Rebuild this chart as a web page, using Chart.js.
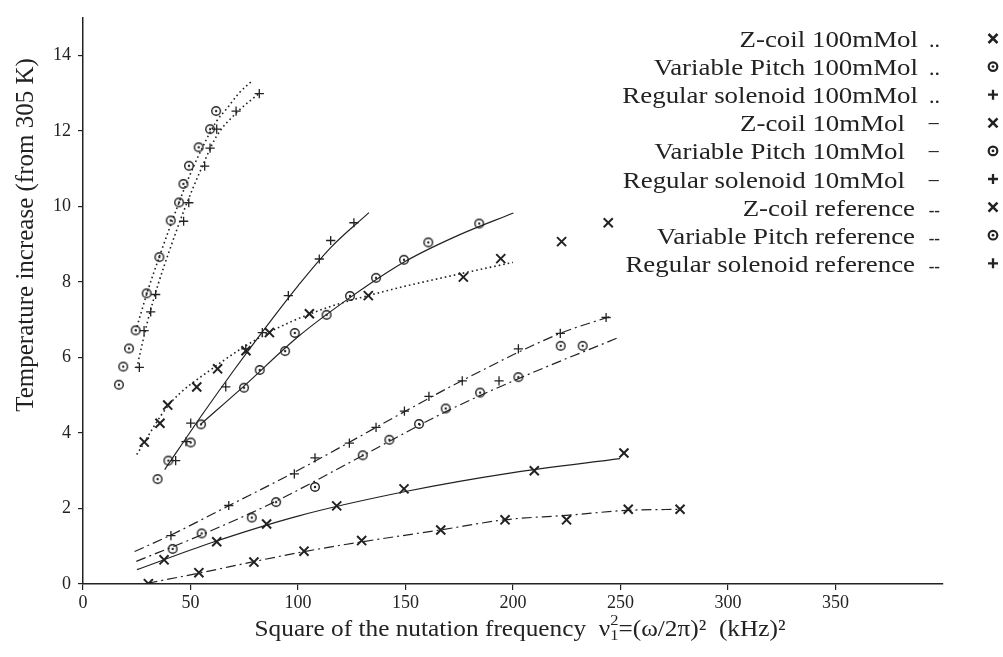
<!DOCTYPE html>
<html>
<head>
<meta charset="utf-8">
<script src="https://cdn.jsdelivr.net/npm/chart.js@4.4.0/dist/chart.umd.min.js"></script>
<style>
  html, body { margin: 0; padding: 0; background: #fff; }
  #wrap { width: 1003px; height: 657px; }
</style>
</head>
<body>
<div id="wrap"><canvas id="chart" width="1003" height="657"></canvas></div>
<script>
// measured points: [nu1^2 (kHz^2), temperature rise (K)]
const zcoil100 = [[28.5,3.76],[35.8,4.26],[39.4,4.74],[52.9,5.22],[62.6,5.70],[75.8,6.18],[86.7,6.66],
  [105.3,7.16],[132.7,7.64],[176.9,8.13],[194.3,8.62],[222.6,9.07],[244.3,9.57]];
const varpitch100 = [[16.7,5.28],[18.7,5.76],[21.4,6.24],[24.5,6.72],[29.6,7.70],[35.5,8.66],[40.8,9.63],
  [44.7,10.11],[46.7,10.60],[49.3,11.08],[53.8,11.57],[59.1,12.05],[61.9,12.53]];
const solenoid100 = [[26.2,5.74],[28.4,6.71],[31.5,7.21],[33.8,7.67],[46.8,9.61],[49.2,10.10],[56.6,11.07],
  [59.1,11.55],[62.2,12.05],[71.2,12.53],[82.0,12.99]];
const zcoil10 = [[37.7,0.64],[62.2,1.12],[85.4,1.59],[118.0,2.07],[149.3,2.52],[209.9,3.00],[251.6,3.47]];
const varpitch10 = [[34.7,2.78],[39.7,3.27],[50.1,3.75],[54.9,4.23],[74.9,5.20],[82.2,5.67],[94.0,6.17],
  [98.5,6.65],[113.3,7.13],[124.2,7.63],[136.3,8.11],[149.3,8.59],[160.6,9.05],[184.3,9.55]];
const solenoid10 = [[43.1,3.27],[47.9,3.77],[50.1,4.26],[66.4,5.22],[75.7,6.23],[83.4,6.66],[95.5,7.64],
  [109.9,8.61],[115.2,9.10],[126.0,9.57]];
const zcoilRef = [[30.4,0.01],[53.9,0.30],[79.5,0.58],[102.8,0.87],[129.6,1.15],[166.4,1.43],[196.3,1.70],
  [224.9,1.70],[253.6,1.98],[277.7,1.98]];
const varpitchRef = [[41.7,0.93],[55.2,1.34],[78.5,1.76],[89.8,2.17],[107.9,2.57],[130.1,3.41],[142.5,3.82],
  [156.3,4.24],[168.7,4.65],[184.7,5.07],[202.5,5.48],[222.2,6.31],[232.4,6.31]];
const solenoidRef = [[40.9,1.28],[67.8,2.08],[98.3,2.92],[107.9,3.34],[123.9,3.73],[136.3,4.15],[149.5,4.58],
  [160.9,4.97],[176.4,5.38],[193.5,5.38],[202.5,6.23],[222.0,6.64],[243.3,7.06]];

// fitted curves
const zcoil100Fit = [[25,3.43],[40,4.75],[60,5.7],[85,6.62],[110,7.25],[140,7.75],[170,8.15],[200,8.52]];
const varpitch100Fit = [[24.5,6.7],[30,7.75],[36,8.75],[42,9.7],[48,10.6],[55,11.5],[62,12.25],[67,12.6],[72.5,13.0],[78.6,13.33]];
const solenoid100Fit = [[25,5.72],[30,6.95],[35,7.95],[40,8.8],[47,9.9],[55,11.0],[62,11.85],[71.5,12.49],[82,13.0]];
const zcoil10Fit = [[25.1,0.38],[60,1.1],[100,1.8],[150,2.45],[200,2.95],[249.8,3.32]];
const varpitch10Fit = [[54.7,4.23],[75,5.25],[100,6.55],[125,7.62],[150,8.55],[175,9.25],[200.2,9.83]];
const solenoid10Fit = [[38,3.03],[55,4.45],[70,5.65],[85,6.8],[100,7.9],[115,8.9],[133,9.84]];
const zcoilRefFit = [[30,0.02],[55,0.3],[80,0.6],[103,0.86],[130,1.12],[166,1.43],[196,1.7],[225,1.82],[253,1.95],[277.7,1.98]];
const varpitchRefFit = [[24.8,0.6],[55,1.3],[90,2.2],[130,3.4],[170,4.6],[205,5.5],[248.2,6.51]];
const solenoidRefFit = [[24,0.86],[41,1.3],[68,2.08],[98,2.95],[150,4.58],[176,5.38],[222,6.64],[245.9,7.1]];

const legendLabels = ['Z-coil 100mMol', 'Variable Pitch 100mMol', 'Regular solenoid 100mMol',
  'Z-coil 10mMol', 'Variable Pitch 10mMol', 'Regular solenoid 10mMol',
  'Z-coil reference', 'Variable Pitch reference', 'Regular solenoid reference'];
const legendTags = ['..', '..', '..', '\u2212', '\u2212', '\u2212', '--', '--', '--'];
const legendMarks = ['x', 'o', '+', 'x', 'o', '+', 'x', 'o', '+'];

const xTitleHead = 'Square of the nutation frequency  \u03bd';
const xTitleTail = '=(\u03c9/2\u03c0)\u00b2  (kHz)\u00b2';
const yTitle = 'Temperature increase (from 305 K)';

const ink = '#222';
const serif = '"Liberation Serif", "Times New Roman", serif';

// circle-with-dot marker
function dotCircle(r, lw) {
  const c = document.createElement('canvas');
  c.width = 14; c.height = 14;
  const g = c.getContext('2d');
  g.strokeStyle = ink; g.fillStyle = ink; g.lineWidth = lw;
  g.beginPath(); g.arc(7, 7, r, 0, Math.PI * 2); g.stroke();
  g.beginPath(); g.arc(7, 7, 1.2, 0, Math.PI * 2); g.fill();
  return c;
}
const circleMark = dotCircle(4.3, 1.4);

const toXY = arr => arr.map(p => ({x: p[0], y: p[1]}));

function marks(data, kind) {
  const ds = { data: toXY(data), showLine: false, borderColor: ink, backgroundColor: 'transparent' };
  if (kind === 'x') Object.assign(ds, { pointStyle: 'crossRot', pointRadius: 6.4, pointBorderWidth: 2 });
  if (kind === '+') Object.assign(ds, { pointStyle: 'cross', pointRadius: 4.6, pointBorderWidth: 1.3 });
  if (kind === 'o') Object.assign(ds, { pointStyle: circleMark, pointRadius: 5 });
  return ds;
}

const dotted = [1.6, 3];
const dashDot = [10, 4, 2, 4];
function fit(data, dash) {
  return { data: toXY(data), showLine: true, pointRadius: 0, borderColor: ink,
    borderWidth: dash === dotted ? 1.6 : 1.2,
    borderDash: dash, cubicInterpolationMode: 'monotone', fill: false };
}

const titlesAndLegend = {
  id: 'titlesAndLegend',
  afterDraw(chart) {
    const ctx = chart.ctx;
    ctx.save();
    ctx.fillStyle = ink;
    ctx.strokeStyle = ink;

    // x title, with stacked sub/superscript on nu
    ctx.font = '23px ' + serif;
    const small = '15px ' + serif;
    const w1 = ctx.measureText(xTitleHead).width;
    const w3 = ctx.measureText(xTitleTail).width;
    ctx.font = small;
    const w2 = ctx.measureText('1').width;
    const total = w1 + w2 + w3;
    ctx.save();
    ctx.translate(520, 636);
    ctx.scale(1.1, 1);
    ctx.textBaseline = 'alphabetic';
    ctx.textAlign = 'left';
    let x0 = -total / 2;
    ctx.font = '23px ' + serif;
    ctx.fillText(xTitleHead, x0, 0);
    ctx.font = small;
    ctx.fillText('2', x0 + w1, -11);
    ctx.fillText('1', x0 + w1, 4);
    ctx.font = '23px ' + serif;
    ctx.fillText(xTitleTail, x0 + w1 + w2, 0);
    ctx.restore();

    // y title
    ctx.save();
    ctx.translate(26, 235);
    ctx.rotate(-Math.PI / 2);
    ctx.font = '25px ' + serif;
    ctx.textAlign = 'center';
    ctx.textBaseline = 'middle';
    ctx.fillText(yTitle, 0, 0);
    ctx.restore();

    // legend: right-aligned labels, line tag, marker column
    const labelRight = { '..': 918, '\u2212': 905, '--': 915 };
    legendLabels.forEach((lab, i) => {
      const base = 47 + i * 28.1;
      const tag = legendTags[i];
      ctx.save();
      ctx.font = '24px ' + serif;
      ctx.textAlign = 'right';
      ctx.textBaseline = 'alphabetic';
      ctx.translate(labelRight[tag], base);
      ctx.scale(1.12, 1);
      ctx.fillText(lab, 0, 0);
      ctx.restore();
      ctx.save();
      ctx.font = (tag === '--' ? 'bold 17px ' : '22px ') + serif;
      ctx.textAlign = 'right';
      ctx.translate(940, base);
      ctx.fillText(tag, 0, 0);
      ctx.restore();

      const cx = 993, cy = base - 8.5;
      ctx.beginPath();
      if (legendMarks[i] === 'x') {
        ctx.lineWidth = 2.5;
        ctx.moveTo(cx - 4.5, cy - 4.5); ctx.lineTo(cx + 4.5, cy + 4.5);
        ctx.moveTo(cx + 4.5, cy - 4.5); ctx.lineTo(cx - 4.5, cy + 4.5);
        ctx.stroke();
      } else if (legendMarks[i] === '+') {
        ctx.lineWidth = 2.3;
        ctx.moveTo(cx - 5, cy); ctx.lineTo(cx + 5, cy);
        ctx.moveTo(cx, cy - 5); ctx.lineTo(cx, cy + 5);
        ctx.stroke();
      } else {
        ctx.lineWidth = 2.2;
        ctx.arc(cx, cy, 4.3, 0, Math.PI * 2);
        ctx.stroke();
        ctx.beginPath();
        ctx.arc(cx, cy, 1.4, 0, Math.PI * 2);
        ctx.fill();
      }
    });
    ctx.restore();
  }
};

const tickFont = { family: serif, size: 18 };

new Chart(document.getElementById('chart'), {
  type: 'scatter',
  data: {
    datasets: [
      marks(zcoil100, 'x'), marks(varpitch100, 'o'), marks(solenoid100, '+'),
      marks(zcoil10, 'x'), marks(varpitch10, 'o'), marks(solenoid10, '+'),
      marks(zcoilRef, 'x'), marks(varpitchRef, 'o'), marks(solenoidRef, '+'),
      fit(zcoil100Fit, dotted), fit(varpitch100Fit, dotted), fit(solenoid100Fit, dotted),
      fit(zcoil10Fit, []), fit(varpitch10Fit, []), fit(solenoid10Fit, []),
      fit(zcoilRefFit, dashDot), fit(varpitchRefFit, dashDot), fit(solenoidRefFit, dashDot)
    ]
  },
  options: {
    responsive: false,
    animation: false,
    devicePixelRatio: 1,
    layout: { padding: { left: 0, right: 60, top: 13, bottom: 0 } },
    plugins: { legend: { display: false }, tooltip: { enabled: false } },
    scales: {
      x: {
        type: 'linear', min: 0, max: 400,
        ticks: { stepSize: 50, color: ink, font: tickFont, padding: 2, maxRotation: 0 },
        afterBuildTicks(s) { s.ticks = s.ticks.filter(t => t.value <= 350); },
        grid: { drawOnChartArea: false, drawTicks: true, tickLength: 6, color: ink, lineWidth: 1.2 },
        border: { color: ink, width: 1.5 },
        afterFit(s) { s.height = 73; }
      },
      y: {
        type: 'linear', min: 0, max: 15,
        ticks: { stepSize: 2, includeBounds: false, color: ink, font: tickFont, padding: 7 },
        grid: { drawOnChartArea: false, drawTicks: true, tickLength: 5, color: ink, lineWidth: 1.2 },
        border: { color: ink, width: 1.5 },
        afterFit(s) { s.width = 83; }
      }
    }
  },
  plugins: [titlesAndLegend]
});
</script>
</body>
</html>
